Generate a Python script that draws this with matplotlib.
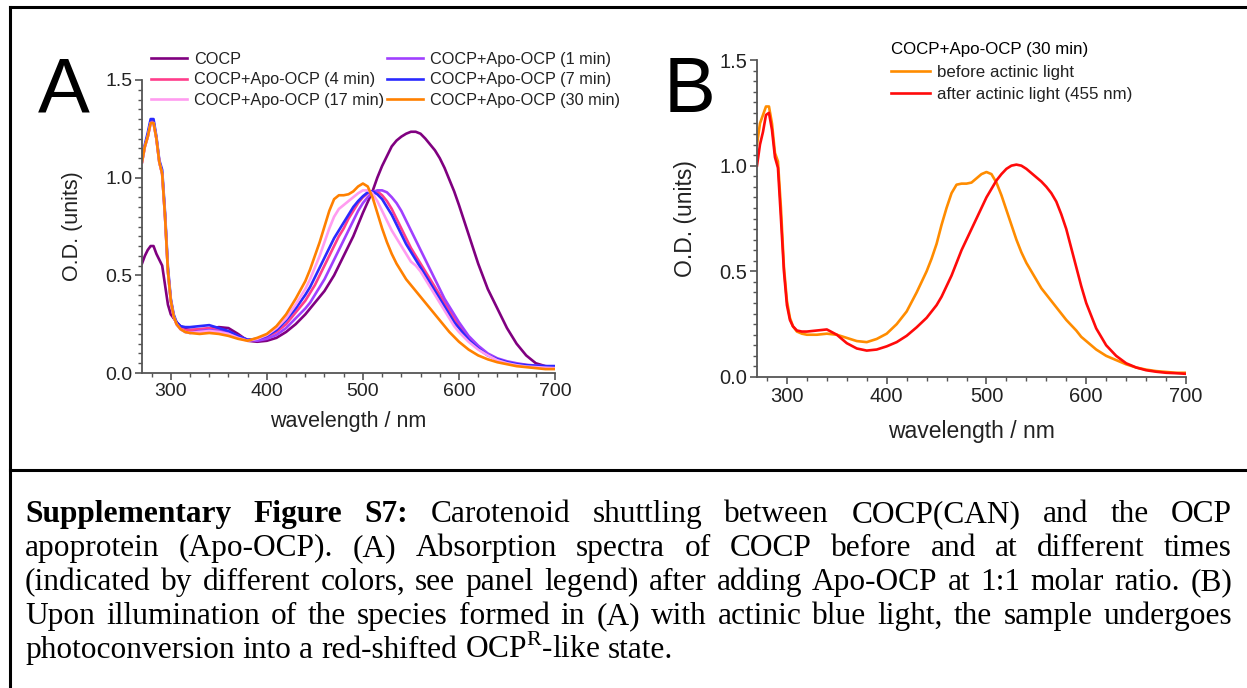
import matplotlib
matplotlib.use('Agg')
import matplotlib.pyplot as plt
from matplotlib.lines import Line2D
from matplotlib.ticker import MultipleLocator

plt.rcParams['font.family'] = ['Liberation Sans', 'DejaVu Sans']
plt.rcParams['mathtext.fontset'] = 'custom'
plt.rcParams['mathtext.rm'] = 'Liberation Serif'

# wavelength grid (nm) shared by every spectrum
wl = [270, 273, 276, 279, 282, 285, 288, 291, 294, 297, 300, 303, 306, 310, 315, 320,
      330, 340, 350, 360, 370, 380, 390, 400, 410, 420, 430,
      440, 445, 450, 455, 460, 465, 470, 475, 480, 485, 490, 495, 500, 505, 510, 515,
      520, 525, 530, 535, 540, 545, 550, 555, 560, 565, 570, 575, 580, 585, 590, 595, 600,
      610, 620, 630, 640, 650, 660, 670, 680, 690, 700]

# panel A: COCP and COCP + Apo-OCP after different times
cocp = [0.56, 0.60, 0.63, 0.65, 0.65, 0.61, 0.58, 0.55, 0.45, 0.35, 0.30, 0.28, 0.26, 0.24, 0.225, 0.22,
        0.22, 0.225, 0.235, 0.23, 0.20, 0.165, 0.16, 0.165, 0.18, 0.21, 0.25,
        0.30, 0.33, 0.36, 0.39, 0.42, 0.46, 0.50, 0.55, 0.60, 0.65, 0.70, 0.76, 0.82, 0.875, 0.93, 1.00,
        1.06, 1.11, 1.16, 1.19, 1.21, 1.225, 1.235, 1.235, 1.225, 1.20, 1.17, 1.14, 1.10, 1.05, 0.99, 0.93, 0.86,
        0.71, 0.56, 0.43, 0.33, 0.23, 0.15, 0.09, 0.05, 0.035, 0.03]
min1 = [1.08, 1.16, 1.21, 1.28, 1.28, 1.20, 1.08, 1.02, 0.80, 0.52, 0.37, 0.29, 0.25, 0.225, 0.21, 0.205,
        0.215, 0.22, 0.215, 0.205, 0.185, 0.17, 0.165, 0.175, 0.195, 0.23, 0.28,
        0.33, 0.36, 0.40, 0.44, 0.48, 0.53, 0.58, 0.63, 0.68, 0.73, 0.78, 0.83, 0.87, 0.90, 0.925, 0.935,
        0.935, 0.925, 0.90, 0.87, 0.83, 0.78, 0.73, 0.68, 0.63, 0.58, 0.53, 0.48, 0.43, 0.38, 0.34, 0.30, 0.26,
        0.19, 0.14, 0.10, 0.075, 0.06, 0.05, 0.042, 0.038, 0.035, 0.035]
min4 = [1.08, 1.16, 1.21, 1.29, 1.29, 1.20, 1.08, 1.02, 0.80, 0.52, 0.37, 0.29, 0.25, 0.23, 0.22, 0.22,
        0.225, 0.23, 0.22, 0.21, 0.19, 0.17, 0.17, 0.185, 0.21, 0.25, 0.31,
        0.37, 0.41, 0.45, 0.50, 0.55, 0.60, 0.65, 0.70, 0.74, 0.79, 0.83, 0.87, 0.90, 0.92, 0.93, 0.93,
        0.91, 0.88, 0.84, 0.79, 0.74, 0.69, 0.64, 0.60, 0.56, 0.52, 0.48, 0.44, 0.40, 0.36, 0.32, 0.28, 0.24,
        0.18, 0.13, 0.095, 0.07, 0.055, 0.045, 0.04, 0.035, 0.033, 0.03]
min7 = [1.10, 1.17, 1.23, 1.30, 1.30, 1.21, 1.09, 1.04, 0.82, 0.54, 0.38, 0.30, 0.26, 0.24, 0.235, 0.235,
        0.24, 0.245, 0.23, 0.215, 0.19, 0.17, 0.175, 0.19, 0.22, 0.27, 0.33,
        0.40, 0.44, 0.49, 0.54, 0.59, 0.64, 0.69, 0.73, 0.77, 0.81, 0.85, 0.88, 0.905, 0.925, 0.93, 0.915,
        0.89, 0.85, 0.81, 0.76, 0.71, 0.66, 0.62, 0.58, 0.54, 0.50, 0.46, 0.42, 0.38, 0.34, 0.30, 0.26, 0.23,
        0.17, 0.125, 0.09, 0.07, 0.055, 0.045, 0.04, 0.037, 0.035, 0.035]
min17 = [1.08, 1.16, 1.21, 1.28, 1.28, 1.20, 1.08, 1.02, 0.80, 0.52, 0.37, 0.29, 0.25, 0.225, 0.21, 0.205,
         0.21, 0.215, 0.21, 0.20, 0.18, 0.165, 0.175, 0.195, 0.23, 0.28, 0.35,
         0.43, 0.48, 0.54, 0.60, 0.67, 0.74, 0.80, 0.84, 0.86, 0.88, 0.90, 0.92, 0.935, 0.935, 0.92, 0.88,
         0.83, 0.78, 0.73, 0.69, 0.65, 0.61, 0.57, 0.55, 0.52, 0.48, 0.44, 0.40, 0.36, 0.32, 0.28, 0.24, 0.21,
         0.16, 0.12, 0.09, 0.065, 0.05, 0.04, 0.033, 0.03, 0.027, 0.025]
min30 = [1.08, 1.16, 1.21, 1.28, 1.28, 1.20, 1.08, 1.02, 0.80, 0.52, 0.37, 0.29, 0.25, 0.225, 0.21, 0.205,
         0.20, 0.205, 0.20, 0.19, 0.175, 0.165, 0.18, 0.20, 0.24, 0.30, 0.38,
         0.47, 0.53, 0.60, 0.67, 0.75, 0.83, 0.89, 0.91, 0.91, 0.915, 0.93, 0.955, 0.97, 0.955, 0.90, 0.82,
         0.74, 0.67, 0.61, 0.56, 0.52, 0.48, 0.45, 0.42, 0.39, 0.36, 0.33, 0.30, 0.27, 0.24, 0.21, 0.185, 0.16,
         0.12, 0.09, 0.07, 0.055, 0.045, 0.035, 0.03, 0.025, 0.02, 0.02]

# panel B: 30 min sample before / after actinic light
before = [1.10, 1.20, 1.24, 1.28, 1.28, 1.20, 1.06, 1.02, 0.80, 0.52, 0.36, 0.28, 0.24, 0.215, 0.205, 0.20,
          0.20, 0.205, 0.20, 0.185, 0.17, 0.165, 0.18, 0.205, 0.25, 0.31, 0.40,
          0.50, 0.56, 0.63, 0.72, 0.80, 0.87, 0.91, 0.915, 0.915, 0.92, 0.94, 0.96, 0.97, 0.96, 0.92, 0.86,
          0.79, 0.72, 0.65, 0.59, 0.54, 0.50, 0.46, 0.42, 0.39, 0.36, 0.33, 0.30, 0.27, 0.245, 0.22, 0.19, 0.17,
          0.13, 0.10, 0.08, 0.06, 0.045, 0.035, 0.028, 0.024, 0.02, 0.02]
after = [1.00, 1.10, 1.16, 1.24, 1.25, 1.17, 1.04, 0.99, 0.75, 0.50, 0.34, 0.27, 0.24, 0.22, 0.215, 0.215,
         0.22, 0.225, 0.20, 0.16, 0.135, 0.125, 0.13, 0.145, 0.165, 0.195, 0.235,
         0.28, 0.31, 0.34, 0.38, 0.43, 0.48, 0.54, 0.60, 0.65, 0.70, 0.75, 0.80, 0.85, 0.89, 0.93, 0.96,
         0.985, 1.0, 1.005, 1.0, 0.985, 0.965, 0.945, 0.925, 0.90, 0.87, 0.83, 0.77, 0.70, 0.61, 0.52, 0.43, 0.35,
         0.23, 0.15, 0.10, 0.065, 0.045, 0.032, 0.025, 0.02, 0.018, 0.015]

labels_a = ['COCP', 'COCP+Apo-OCP (4 min)', 'COCP+Apo-OCP (17 min)',
            'COCP+Apo-OCP (1 min)', 'COCP+Apo-OCP (7 min)', 'COCP+Apo-OCP (30 min)']
series_a = [cocp, min4, min17, min1, min7, min30]
colors_a = ['#800080', '#ff3d8b', '#ff9cf0', '#a040ff', '#2a2aff', '#ff8000']
draw_order = [0, 1, 3, 4, 2, 5]  # orange ends on top

W, H = 1247, 688
fig = plt.figure(figsize=(W / 100, H / 100), dpi=100, facecolor='white')


def px_axes(left, top, right, bottom):
    return fig.add_axes([left / W, 1 - bottom / H, (right - left) / W, (bottom - top) / H])


def style_axes(ax, fs):
    ax.set_xlim(270, 700)
    ax.set_ylim(0, 1.5)
    for s in ['top', 'right']:
        ax.spines[s].set_visible(False)
    for s in ['left', 'bottom']:
        ax.spines[s].set_color('#555555')
        ax.spines[s].set_linewidth(1.3)
    ax.xaxis.set_major_locator(MultipleLocator(100))
    ax.xaxis.set_minor_locator(MultipleLocator(20))
    ax.yaxis.set_major_locator(MultipleLocator(0.5))
    ax.yaxis.set_minor_locator(MultipleLocator(0.05))
    ax.yaxis.set_major_formatter(plt.FuncFormatter(lambda v, p: f'{v:.1f}'))
    ax.tick_params(which='major', direction='out', length=5, width=1.2, color='#555555',
                   labelsize=fs, labelcolor='#222222', pad=2)
    ax.tick_params(which='minor', direction='out', length=3, width=1.0, color='#555555')
    ax.set_facecolor('none')


# panel A
ax_a = px_axes(142, 80, 555, 373)
style_axes(ax_a, 14)
lines = {}
for i in draw_order:
    lines[i], = ax_a.plot(wl, series_a[i], color=colors_a[i], lw=1.9, label=labels_a[i])
ax_a.set_xlabel('wavelength / nm', fontsize=15.5, color='#222222', labelpad=8)
ax_a.set_ylabel('O.D. (units)', fontsize=15.5, color='#222222', labelpad=16)
ax_a.legend([lines[i] for i in range(6)], labels_a, ncol=2, frameon=False,
            loc='upper left', bbox_to_anchor=(151 / W, 1 - 52 / H), bbox_transform=fig.transFigure,
            fontsize=11.7, handlelength=2.2, handletextpad=0.45, columnspacing=0.2,
            labelspacing=0.33, borderpad=0, borderaxespad=0, labelcolor='#222222')

# panel B
ax_b = px_axes(757, 60, 1186, 377)
style_axes(ax_b, 14.5)
ax_b.plot(wl, before, color='#ff8c00', lw=1.9, label='before actinic light')
ax_b.plot(wl, after, color='#ff0a0a', lw=1.9, label='after actinic light (455 nm)')
ax_b.set_xlabel('wavelength / nm', fontsize=16.5, color='#222222', labelpad=10)
ax_b.set_ylabel('O.D. (units)', fontsize=16.5, color='#222222', labelpad=16)
leg_b = ax_b.legend(title='COCP+Apo-OCP (30 min)', alignment='left', frameon=False,
                    loc='upper left', bbox_to_anchor=(891 / W, 1 - 42 / H), bbox_transform=fig.transFigure,
                    fontsize=12.2, title_fontsize=12.2, handlelength=2.3, handletextpad=0.4,
                    labelspacing=0.4, borderpad=0, borderaxespad=0, labelcolor='#222222')
leg_b._legend_box.sep = 6

fig.text(38 / W, 1 - 112 / H, 'A', fontsize=56, color='black', va='baseline')
fig.text(664 / W, 1 - 112 / H, 'B', fontsize=56, color='black', va='baseline')

# frame: left edge, top edge and the rule above the caption
for xs, ys in [([10, 10], [7, H]), ([10, W], [7, 7]), ([10, W], [470, 470])]:
    fig.add_artist(Line2D([x / W for x in xs], [1 - y / H for y in ys], color='black', lw=2.2))

# caption, justified word by word
cap_fs = 22.6
left, right = 25, 1232
caption = [
    ([('Supplementary', True), ('Figure', True), ('S7:', True), ('Carotenoid', False),
      ('shuttling', False), ('between', False), ('COCP(CAN)', False), ('and', False),
      ('the', False), ('OCP', False)], True),
    ([(w, False) for w in 'apoprotein (Apo-OCP). (A) Absorption spectra of COCP before and at different times'.split()], True),
    ([(w, False) for w in '(indicated by different colors, see panel legend) after adding Apo-OCP at 1:1 molar ratio. (B)'.split()], True),
    ([(w, False) for w in 'Upon illumination of the species formed in (A) with actinic blue light, the sample undergoes'.split()], True),
    ([(w, False) for w in r'photoconversion into a red-shifted OCP$^{\mathrm{R}}$-like state.'.split()], False),
]
baselines = [522, 556, 590, 624, 658]
renderer = fig.canvas.get_renderer()
space = fig.text(0, 0, 'a a', fontsize=cap_fs, family='Liberation Serif')
aa = fig.text(0, 0, 'aa', fontsize=cap_fs, family='Liberation Serif')
space_w = space.get_window_extent(renderer).width - aa.get_window_extent(renderer).width
space.remove()
aa.remove()
for (words, justify), yb in zip(caption, baselines):
    texts = [fig.text(0, 1 - yb / H, w, fontsize=cap_fs, family='Liberation Serif',
                      weight='bold' if b else 'normal', va='baseline', color='black')
             for w, b in words]
    widths = [t.get_window_extent(renderer).width for t in texts]
    gap = (right - left - sum(widths)) / (len(texts) - 1) if justify else space_w
    x = left
    for t, w in zip(texts, widths):
        t.set_x(x / W)
        x += w + gap

fig.savefig('out.png', dpi=100, facecolor='white')
